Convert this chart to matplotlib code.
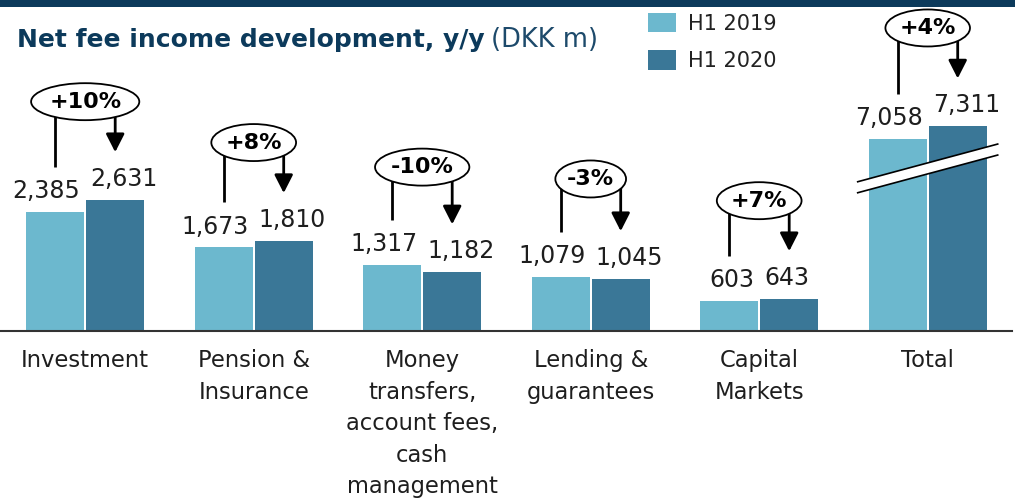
import matplotlib
matplotlib.use("Agg")
import matplotlib.pyplot as plt
from matplotlib.patches import Ellipse, Polygon, FancyArrowPatch, Rectangle
import numpy as np

# ---------------- data ----------------
categories = ["Investment", "Pension &\nInsurance",
              "Money\ntransfers,\naccount fees,\ncash\nmanagement",
              "Lending &\nguarantees", "Capital\nMarkets", "Total"]
h1_2019 = [2385, 1673, 1317, 1079, 603, 7058]
h1_2020 = [2631, 1810, 1182, 1045, 643, 7311]
changes = ["+10%", "+8%", "-10%", "-3%", "+7%", "+4%"]
series_names = ["H1 2019", "H1 2020"]
broken = [False, False, False, False, False, True]
BREAK_OFFSET = 3200  # amount cut out of the broken (Total) bars

# ---------------- style ----------------
W, H, DPI = 1019, 500, 100
C_LIGHT = "#6cb8ce"
C_DARK = "#3a7797"
NAVY = "#0c3a5b"
TXT = "#1e1e1e"

fig = plt.figure(figsize=(W / DPI, H / DPI), dpi=DPI)
AX_L, AX_R, AX_B, AX_T = 0.0, 1011.7, 330.7, 30.7   # pixels (from top)
ax = fig.add_axes([AX_L / W, 1 - AX_B / H, (AX_R - AX_L) / W, (AX_B - AX_T) / H])
XPX = 168.5    # pixels per category
X0PX = 85.2    # pixel position of the first category
YPX = 0.0498   # pixels per DKK m
ax.set_xlim(-(X0PX - AX_L) / XPX, (AX_R - X0PX) / XPX)
ax.set_ylim(0, (AX_B - AX_T) / YPX)


def dx(px):
    return px / XPX


def dy(px):
    return px / YPX


x = np.arange(len(categories))
disp19 = np.array([v - BREAK_OFFSET if b else v for v, b in zip(h1_2019, broken)])
disp20 = np.array([v - BREAK_OFFSET if b else v for v, b in zip(h1_2020, broken)])

bw = dx(58)
off = dx(30)
b1 = ax.bar(x - off, disp19, width=bw, color=C_LIGHT, label=series_names[0], zorder=2)
b2 = ax.bar(x + off, disp20, width=bw, color=C_DARK, label=series_names[1], zorder=2)

renderer = fig.canvas.get_renderer()

for i in range(len(categories)):
    xl, xd = x[i] - off, x[i] + off
    # value labels
    ax.text(xl + bw / 2 - dx(4), disp19[i] + dy(13.7), f"{h1_2019[i]:,}",
            ha="right", va="baseline", fontsize=17, color=TXT, zorder=5)
    ax.text(xd - bw / 2 + dx(4), disp20[i] + dy(13.7), f"{h1_2020[i]:,}",
            ha="left", va="baseline", fontsize=17, color=TXT, zorder=5)
    # change annotation
    yc = max(disp19[i], disp20[i]) + dy(98)
    t = ax.text(x[i], yc, changes[i], ha="center", va="center", fontsize=16,
                fontweight="bold", color="black", zorder=6, clip_on=False)
    tw = t.get_window_extent(renderer).width
    ell = Ellipse((x[i], yc), width=dx(tw * 1.5), height=dy(37), facecolor="white",
                  edgecolor="black", lw=1.3, zorder=5, clip_on=False)
    ax.add_patch(ell)
    ax.plot([xl, xl], [yc, disp19[i] + dy(45)], color="black", lw=2,
            zorder=4, clip_on=False, solid_capstyle="butt")
    arr = FancyArrowPatch((xd, yc), (xd, disp20[i] + dy(47.5)),
                          arrowstyle="-|>,head_length=0.55,head_width=0.28",
                          mutation_scale=20, lw=2, color="black",
                          shrinkA=0, shrinkB=0, zorder=4, clip_on=False)
    ax.add_patch(arr)
    # axis break band
    if broken[i]:
        c = 162.3      # band centre, px above baseline
        hw = 70        # half width, px
        rise = 18.85   # half rise over the band, px
        th = 5.5       # half thickness, px
        pts = [(x[i] - dx(hw), dy(c - rise - th)), (x[i] + dx(hw), dy(c + rise - th)),
               (x[i] + dx(hw), dy(c + rise + th)), (x[i] - dx(hw), dy(c - rise + th))]
        ax.add_patch(Polygon(pts, closed=True, facecolor="white", edgecolor="none",
                             zorder=3, clip_on=False))
        ax.plot([pts[0][0], pts[1][0]], [pts[0][1], pts[1][1]], color="black",
                lw=1.2, zorder=3.5, clip_on=False)
        ax.plot([pts[3][0], pts[2][0]], [pts[3][1], pts[2][1]], color="black",
                lw=1.2, zorder=3.5, clip_on=False)

# axes styling
ax.set_xticks(x)
ax.set_xticklabels(categories, fontsize=16.3, color=TXT, linespacing=1.47)
ax.tick_params(axis="x", length=0, pad=13.5)
ax.set_yticks([])
for s in ["left", "right", "top"]:
    ax.spines[s].set_visible(False)
ax.spines["bottom"].set_color("#333333")
ax.spines["bottom"].set_linewidth(1.5)

# legend
ax.legend(handles=[b1, b2], loc="upper left", bbox_to_anchor=(648 / W, 1 - 13 / H),
          bbox_transform=fig.transFigure, frameon=False, fontsize=15,
          handlelength=1.33, handleheight=1.05, handletextpad=0.6,
          labelspacing=0.8, borderpad=0, borderaxespad=0, labelcolor="#222222")

# top rule
fig.add_artist(Rectangle((0, 1 - 7 / H), 1015 / W, 7 / H, transform=fig.transFigure,
                         color=NAVY, lw=0))

# title
t1 = fig.text(17 / W, 1 - 47 / H, "Net fee income development, y/y", fontsize=18,
              fontweight="bold", color=NAVY, va="baseline", ha="left")
ext = t1.get_window_extent(renderer)
fig.text((ext.x1 + 6) / W, 1 - 47 / H, "(DKK m)", fontsize=18.5, color="#1d4a6b",
         va="baseline", ha="left")

fig.savefig("out.png", dpi=DPI)
